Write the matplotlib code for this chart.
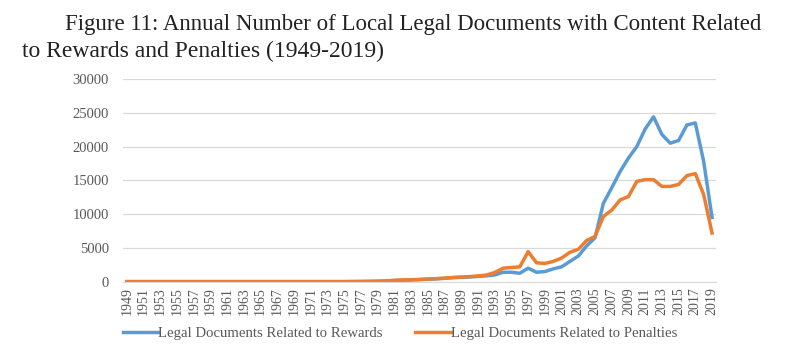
import matplotlib
matplotlib.use("Agg")
import matplotlib.pyplot as plt
import numpy as np

years = list(range(1949, 2020))
rewards = [
    10, 10, 10, 10, 10, 10, 10, 10, 10, 10,          # 1949-1958
    10, 10, 10, 10, 10, 10, 10, 10, 10, 10,          # 1959-1968
    10, 10, 10, 10, 10, 10, 10, 20, 30, 40,          # 1969-1978
    60, 100, 180, 230, 260, 310, 370, 420, 500, 600, # 1979-1988
    650, 700, 780, 870, 1000, 1400, 1400, 1250, 2000, 1400, # 1989-1998
    1500, 1900, 2200, 3000, 3800, 5300, 6500, 11600, 13900, 16300, # 1999-2008
    18300, 20000, 22600, 24400, 21800, 20500, 20900, 23200, 23500, 17800, # 2009-2018
    9500,                                            # 2019
]
penalties = [
    10, 10, 10, 10, 10, 10, 10, 10, 10, 10,
    10, 10, 10, 10, 10, 10, 10, 10, 10, 10,
    10, 10, 10, 10, 10, 10, 10, 20, 30, 50,
    70, 110, 200, 250, 280, 330, 400, 450, 520, 620,
    680, 760, 850, 980, 1350, 2000, 2100, 2200, 4450, 2800,
    2700, 3000, 3500, 4350, 4800, 6100, 6700, 9650, 10600, 12100,
    12600, 14850, 15100, 15100, 14100, 14100, 14400, 15700, 16000, 12900,
    7200,
]
yticks = [0, 5000, 10000, 15000, 20000, 25000, 30000]
title_line1 = "Figure 11: Annual Number of Local Legal Documents with Content Related"
title_line2 = "to Rewards and Penalties (1949-2019)"
labels = ["Legal Documents Related to Rewards", "Legal Documents Related to Penalties"]

serif = ["Liberation Serif", "DejaVu Serif"]
W, H = 788, 359
fig = plt.figure(figsize=(W / 100, H / 100), dpi=100)
ax = fig.add_axes([122.8 / W, 1 - 281.7 / H, 593.4 / W, 202.7 / H])
x = np.arange(len(years))
ax.plot(x, rewards, color="#5B9BD5", lw=2.5, label=labels[0], solid_joinstyle="round")
ax.plot(x, penalties, color="#ED7D31", lw=2.5, label=labels[1], solid_joinstyle="round")
ax.set_ylim(0, 30000)
ax.set_xlim(-0.5, len(years) - 0.5)
ax.set_yticks(yticks)
ax.set_yticklabels([str(v) for v in yticks], family=serif, fontsize=10.5, color="#595959")
ax.set_xticks(x[::2])
ax.set_xticklabels([str(y) for y in years[::2]], rotation=90, family=serif,
                   fontsize=10, color="#595959")
ax.grid(axis="y", color="#D9D9D9", lw=0.9)
ax.set_axisbelow(True)
for s in ["top", "right", "left"]:
    ax.spines[s].set_visible(False)
ax.spines["bottom"].set_color("#D9D9D9")
ax.tick_params(axis="y", length=0, pad=10)
ax.tick_params(axis="x", length=0, pad=4)
fig.text(65 / W, 1 - 30 / H, title_line1, family=serif, fontsize=16.5, va="baseline",
         ha="left", color="#222222")
fig.text(22 / W, 1 - 57 / H, title_line2, family=serif, fontsize=17, va="baseline",
         ha="left", color="#222222")
leg = fig.legend(loc="center", bbox_to_anchor=(400 / W, 1 - 333.5 / H), ncol=2, frameon=False,
                 prop={"family": serif, "size": 10.6}, handlelength=2.4,
                 handletextpad=0.0, columnspacing=2.2)
for t in leg.get_texts():
    t.set_color("#595959")
fig.savefig("out.png", dpi=100, facecolor="white")
